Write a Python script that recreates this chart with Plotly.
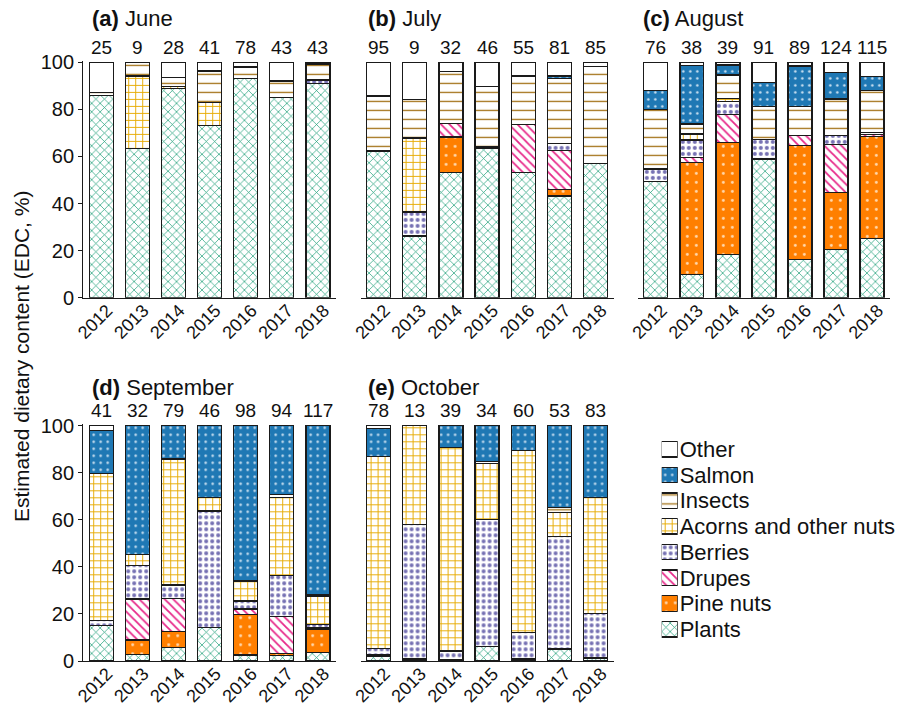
import plotly.graph_objects as go

YEARS = ["2012", "2013", "2014", "2015", "2016", "2017", "2018"]
MONTHS = ["June", "July", "August", "September", "October"]
LETTERS = ["(a)", "(b)", "(c)", "(d)", "(e)"]

# Rows: June, July, August, September, October; columns: 2012..2018 (EDC, %)
PLANTS = [
    [86.0, 63.5, 89.0, 73.2, 93.2, 85.0, 91.0],
    [62.3, 26.2, 53.3, 63.5, 53.3, 43.2, 57.1],
    [49.3, 9.9, 18.4, 58.9, 16.3, 20.5, 25.2],
    [15.0, 2.8, 5.7, 14.2, 2.5, 2.3, 3.5],
    [2.1, 0.3, 0.5, 6.1, 0.3, 5.1, 1.0],
]
PINE_NUTS = [
    [0, 0, 0, 0, 0, 0, 0],
    [0, 0, 15.0, 0, 0, 2.8, 0],
    [0, 47.5, 47.5, 0, 48.3, 24.3, 43.2],
    [0, 6.1, 6.8, 0, 17.3, 1.0, 10.1],
    [0, 0, 0, 0, 0.5, 0, 0],
]
DRUPES = [
    [0, 0, 0, 0, 0, 0, 0],
    [0, 0, 5.8, 0, 20.4, 16.5, 0],
    [0, 2.2, 12.0, 0, 4.4, 20.4, 1.0],
    [0, 17.4, 14.1, 0, 2.3, 15.5, 0.7],
    [0.4, 0.5, 0, 0, 0, 0, 0.4],
]
BERRIES = [
    [0, 0, 0, 0, 0, 0, 1.5],
    [0, 10.2, 0, 0.5, 0, 3.1, 0],
    [5.4, 7.4, 5.4, 8.4, 0, 3.6, 0.7],
    [2.1, 14.2, 5.7, 49.5, 3.4, 17.5, 1.3],
    [2.7, 57.3, 3.7, 54.1, 11.2, 47.7, 18.9],
]
ACORNS = [
    [0, 30.7, 0.8, 9.7, 0, 0, 0],
    [0, 31.4, 0, 0, 0, 0, 0],
    [0, 2.5, 1.3, 0, 0, 0, 0],
    [62.6, 4.8, 53.5, 5.8, 8.5, 33.2, 12.0],
    [81.6, 41.9, 86.5, 23.8, 77.4, 10.4, 49.1],
]
INSECTS = [
    [1.2, 5.8, 3.8, 13.1, 4.5, 7.1, 6.7],
    [23.4, 16.5, 21.9, 25.7, 20.5, 27.6, 41.1],
    [25.3, 4.3, 10.0, 13.9, 12.2, 15.6, 17.9],
    [0, 0, 0, 0, 0, 1.3, 0.4],
    [0, 0, 0, 0.7, 0, 2.0, 0],
]
SALMON = [
    [0, 0, 0, 0.5, 0.5, 0, 0.4],
    [0, 0, 0, 0, 0, 1.0, 0],
    [8.0, 24.8, 4.3, 10.3, 17.2, 11.4, 5.9],
    [18.2, 54.7, 14.2, 30.5, 66.0, 29.2, 72.0],
    [12.1, 0, 9.3, 15.3, 10.6, 34.8, 30.6],
]
OTHER = [
    [12.8, 0, 6.4, 3.5, 1.8, 7.9, 0.4],
    [14.3, 15.7, 4.0, 10.3, 5.8, 5.8, 1.8],
    [12.0, 1.4, 1.1, 8.5, 1.6, 4.2, 6.1],
    [2.1, 0, 0, 0, 0, 0, 0],
    [1.1, 0, 0, 0, 0, 0, 0],
]
COUNTS = [
    [25, 9, 28, 41, 78, 43, 43],
    [95, 9, 32, 46, 55, 81, 85],
    [76, 38, 39, 91, 89, 124, 115],
    [41, 32, 79, 46, 98, 94, 117],
    [78, 13, 39, 34, 60, 53, 83],
]

SERIES = [
    ("Plants", PLANTS),
    ("Pine nuts", PINE_NUTS),
    ("Drupes", DRUPES),
    ("Berries", BERRIES),
    ("Acorns and other nuts", ACORNS),
    ("Insects", INSECTS),
    ("Salmon", SALMON),
    ("Other", OTHER),
]
LEGEND_ORDER = [name for name, _ in SERIES]  # bottom-to-top

STYLE = {
    "Plants": dict(shape="x", fg="#1b9e77", bg="white", size=6, sol=0.22),
    "Pine nuts": dict(shape=".", fg="#ffd9b0", bg="#ff7f00", size=9, sol=0.08),
    "Drupes": dict(shape="\\", fg="#e7298a", bg="white", size=6, sol=0.3),
    "Berries": dict(shape=".", fg="#7570b3", bg="white", size=6, sol=0.35),
    "Acorns and other nuts": dict(shape="+", fg="#e6ab02", bg="white", size=7, sol=0.25),
    "Insects": dict(shape="-", fg="#a6761d", bg="white", size=9, sol=0.15),
    "Salmon": dict(shape=".", fg="#cfe3f3", bg="#1f78b4", size=7, sol=0.1),
    "Other": dict(shape="", fg="white", bg="white", size=8, sol=0.3),
}

W, H = 914, 710
FONT = "Liberation Sans, Arial, sans-serif"
XDOM = [[83.2 / W, 336 / W], [360.6 / W, 613.5 / W], [637.8 / W, 890 / W]]
YDOM = [[1 - 297.7 / H, 1 - 60.9 / H], [1 - 661 / H, 1 - 424.3 / H]]
COUNT_Y = [1.0545, 1.0604]  # count label height, in subplot-domain units
PANELS = [(0, 0), (0, 1), (0, 2), (1, 0), (1, 1)]  # (row, col)


def marker_for(name):
    st = STYLE[name]
    return dict(
        color=st["bg"],
        line=dict(color="#1a1a1a", width=1.3),
        pattern=dict(shape=st["shape"], fgcolor=st["fg"], bgcolor=st["bg"],
                     size=st["size"], solidity=st["sol"], fillmode="replace"),
    )


fig = go.Figure()
for name, data in SERIES:
    for i in range(5):
        sfx = "" if i == 0 else str(i + 1)
        vals = [v if v > 0 else None for v in data[i]]
        fig.add_trace(go.Bar(
            x=YEARS, y=vals, name=name, xaxis="x" + sfx, yaxis="y" + sfx,
            showlegend=False, marker=marker_for(name),
        ))

# legend drawn as a small key subplot (icon column + category labels)
for name in LEGEND_ORDER:
    fig.add_trace(go.Bar(
        x=[1], y=[name], orientation="h", xaxis="x6", yaxis="y6", width=0.6,
        showlegend=False, marker=marker_for(name), hoverinfo="skip",
    ))

layout = dict(
    width=W, height=H, barmode="stack", bargap=0.335,
    margin=dict(l=0, r=0, t=0, b=0, autoexpand=False),
    paper_bgcolor="white", plot_bgcolor="white",
    font=dict(family=FONT, size=20, color="#111"),
    showlegend=False,
)
annotations = []
for i, (r, c) in enumerate(PANELS):
    sfx = "" if i == 0 else str(i + 1)
    layout["xaxis" + sfx] = dict(
        domain=XDOM[c], anchor="y" + sfx, showline=True, linecolor="#1a1a1a",
        linewidth=1.3, ticks="", tickangle=-45, showgrid=False, zeroline=False,
        tickfont=dict(size=18), range=[-0.5, 6.5], type="category", automargin=False,
        ticklabelstandoff=-6, ticklabelshift=6,
    )
    first = (c == 0)
    layout["yaxis" + sfx] = dict(
        domain=YDOM[r], anchor="x" + sfx, range=[0, 100.6], showgrid=False,
        zeroline=False, showline=first, linecolor="#1a1a1a", linewidth=1.3,
        ticks="outside" if first else "", ticklen=4, tickcolor="#1a1a1a",
        tickvals=[0, 20, 40, 60, 80, 100], showticklabels=first,
        tickfont=dict(size=20), automargin=False,
    )
    tx = [90, 366, 641][c] / W
    ty = [1 - 19 / H, 1 - 387 / H][r]
    annotations.append(dict(
        x=tx, y=ty, xref="paper", yref="paper", xanchor="left", yanchor="middle",
        text="<b>" + LETTERS[i] + "</b> " + MONTHS[i], showarrow=False,
        font=dict(size=22, family=FONT),
    ))
    for j in range(len(YEARS)):
        annotations.append(dict(
            x=j, y=COUNT_Y[r], xref="x" + sfx, yref="y" + sfx + " domain",
            xanchor="center", yanchor="middle", text=str(COUNTS[i][j]),
            showarrow=False, font=dict(size=19, family=FONT),
        ))
annotations.append(dict(
    x=21 / W, y=1 - 357 / H, xref="paper", yref="paper", xanchor="center",
    yanchor="middle", textangle=-90, text="Estimated dietary content (EDC, %)",
    showarrow=False, font=dict(size=21, family=FONT),
))
layout["annotations"] = annotations

layout["xaxis6"] = dict(domain=[661.7 / W, 677.7 / W], anchor="y6", range=[0, 1],
                        visible=False, fixedrange=True)
layout["yaxis6"] = dict(domain=[1 - 642.1 / H, 1 - 436.4 / H], anchor="x6", side="right",
                        type="category", categoryorder="array", categoryarray=LEGEND_ORDER,
                        tickmode="array", tickvals=LEGEND_ORDER, ticktext=LEGEND_ORDER,
                        range=[-0.5, 7.5], showline=False, ticks="", showgrid=False,
                        zeroline=False, tickfont=dict(size=22, family=FONT),
                        automargin=False, fixedrange=True, ticklabelstandoff=1)

fig.update_layout(**layout)
fig.write_html("out.html", config={"displayModeBar": False},
               post_script="document.body.style.margin='0';document.body.style.padding='0';")
